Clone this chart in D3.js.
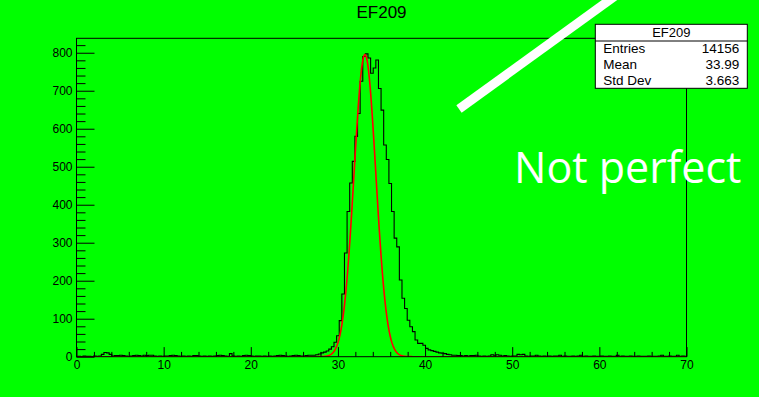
<!DOCTYPE html>
<html>
<head>
<meta charset="utf-8">
<script src="https://cdn.jsdelivr.net/npm/d3@7"></script>
<style>
  html, body { margin: 0; padding: 0; background: #00ff00; }
  svg { display: block; }
</style>
</head>
<body>
<svg id="chart" width="759" height="397"></svg>
<script>
// ---- histogram EF209 ----
const histTitle = "EF209";
const xDomain = [0, 70];
const binWidth = 0.3;          // bins are centred on multiples of 0.3
// bin contents, bin k is centred on k * binWidth
const counts = [
  0,1,0,2,1,1,0,2,1,2,            // 0
  6,11,10,6,2,3,3,4,3,2,          // 10
  1,2,3,4,3,2,4,3,4,4,            // 20
  2,1,2,1,2,2,3,4,3,2,            // 30
  1,2,1,2,1,3,3,2,1,2,            // 40
  1,2,1,2,3,4,3,2,1,8,            // 50
  2,1,2,1,3,4,3,2,1,2,            // 60
  2,1,2,1,2,1,2,3,4,3,            // 70
  2,1,2,3,4,3,2,2,3,4,            // 80
  4,4,5,7,10,12,15,20,26,38,      // 90
  55,95,165,273,382,457,514,580,640,725,   // 100
  790,797,786,746,760,781,706,649,557,519, // 110
  456,382,312,289,202,154,127,96,79,66,    // 120
  44,35,35,30,22,18,16,14,12,10,  // 130
  9,8,6,5,4,4,3,3,2,3,            // 140
  2,3,3,4,2,1,2,1,2,5,            // 150
  4,5,4,2,3,2,1,2,2,6,            // 160
  5,6,2,1,2,2,4,2,1,2,            // 170
  1,2,1,2,2,4,1,2,1,1,            // 180
  2,1,2,4,1,2,1,1,2,1,            // 190
  1,2,1,1,2,1,1,4,1,2,            // 200
  1,1,2,1,1,2,1,1,1,2,            // 210
  1,1,1,2,4,1,1,2,1,1,            // 220
  4,1,2,1                         // 230
];
// gaussian fit: constant, mean, sigma
const fitParams = [795, 33.1, 1.25];

// statistics box
const statsLabels = ["Entries", "Mean", "Std Dev"];
const statsValues = ["14156", "33.99", "3.663"];

// axis ticks
const xMajorTicks = [0, 10, 20, 30, 40, 50, 60, 70];
const yMajorTicks = [0, 100, 200, 300, 400, 500, 600, 700, 800];
const yMax = 838;

const noteText = "Not perfect";

// ---- layout ----
const FONT = "'Liberation Sans', Arial, Helvetica, sans-serif";
const frame = { left: 76.5, right: 686.5, top: 38.3, bottom: 356.7 };
const svg = d3.select("#chart");

const x = d3.scaleLinear().domain(xDomain).range([frame.left, frame.right]);
const y = d3.scaleLinear().domain([0, yMax]).range([frame.bottom, frame.top]);

svg.append("defs").append("clipPath").attr("id", "frameClip")
  .append("rect")
  .attr("x", frame.left).attr("y", frame.top)
  .attr("width", frame.right - frame.left).attr("height", frame.bottom - frame.top);

// ---- histogram outline ----
const edge = k => Math.max(xDomain[0], Math.min(xDomain[1], k * binWidth - binWidth / 2));
const path = d3.path();
path.moveTo(x(edge(0)), y(0));
counts.forEach((c, k) => {
  path.lineTo(x(edge(k)), y(c));
  path.lineTo(x(edge(k + 1)), y(c));
});
path.lineTo(x(edge(counts.length)), y(0));

const plot = svg.append("g").attr("clip-path", "url(#frameClip)");
plot.append("path")
  .attr("d", path.toString())
  .attr("fill", "none")
  .attr("stroke", "#000")
  .attr("stroke-width", 1.1);

// ---- fit curve ----
const gaus = v => fitParams[0] * Math.exp(-0.5 * Math.pow((v - fitParams[1]) / fitParams[2], 2));
const fitPts = d3.range(0, 700.01, 0.5).map(i => i / 10);
plot.append("path")
  .datum(fitPts)
  .attr("d", d3.line().x(v => x(v)).y(v => y(gaus(v))))
  .attr("fill", "none")
  .attr("stroke", "#ff0000")
  .attr("stroke-width", 1.6);

// ---- axes ----
const axisStyle = g => {
  g.select(".domain").remove();
  g.selectAll(".tick line").attr("stroke", "#000").attr("stroke-width", 1);
  g.selectAll("text").style("font-size", "12px").style("fill", "#000")
    .style("font-family", FONT);
};

const yMinor = d3.range(0, yMax, 20).filter(v => v % 100 !== 0);
svg.append("g").attr("transform", `translate(${frame.left},0)`)
  .call(d3.axisLeft(y).tickValues(yMinor).tickSizeInner(-9).tickSizeOuter(0).tickFormat(""))
  .call(axisStyle);
svg.append("g").attr("transform", `translate(${frame.left},0)`)
  .call(d3.axisLeft(y).tickValues(yMajorTicks).tickSizeInner(-18).tickSizeOuter(0).tickPadding(4).tickFormat(d3.format("d")))
  .call(axisStyle);

const xMinor = d3.range(0, 70, 2).filter(v => v % 10 !== 0);
svg.append("g").attr("transform", `translate(0,${frame.bottom})`)
  .call(d3.axisBottom(x).tickValues(xMinor).tickSizeInner(-4.8).tickSizeOuter(0).tickFormat(""))
  .call(axisStyle);
svg.append("g").attr("transform", `translate(0,${frame.bottom})`)
  .call(d3.axisBottom(x).tickValues(xMajorTicks).tickSizeInner(-9.6).tickSizeOuter(0).tickPadding(4).tickFormat(d3.format("d")))
  .call(axisStyle);

// frame
svg.append("rect")
  .attr("x", frame.left).attr("y", frame.top)
  .attr("width", frame.right - frame.left).attr("height", frame.bottom - frame.top)
  .attr("fill", "none").attr("stroke", "#000").attr("stroke-width", 1);

// ---- title ----
const label = (sel, size) => sel.style("font-family", FONT).style("font-size", size + "px").style("fill", "#000");
svg.append("text")
  .attr("x", (frame.left + frame.right) / 2).attr("y", 18.3)
  .attr("text-anchor", "middle")
  .call(label, 17)
  .text(histTitle);

// ---- statistics box ----
const box = { left: 595.3, right: 747.3, top: 24.3, bottom: 88.3, head: 41 };
const stats = svg.append("g");
stats.append("rect")
  .attr("x", box.left).attr("y", box.top)
  .attr("width", box.right - box.left).attr("height", box.bottom - box.top)
  .attr("fill", "#fff").attr("stroke", "#000").attr("stroke-width", 1);
stats.append("line")
  .attr("x1", box.left).attr("x2", box.right)
  .attr("y1", box.head).attr("y2", box.head)
  .attr("stroke", "#000").attr("stroke-width", 1);
stats.append("text")
  .attr("x", (box.left + box.right) / 2).attr("y", 37.4)
  .attr("text-anchor", "middle")
  .call(label, 13)
  .text(histTitle);
statsLabels.forEach((lab, i) => {
  const by = 53.3 + i * 15.8;
  stats.append("text").attr("x", box.left + 8).attr("y", by)
    .call(label, 13.5).text(lab);
  stats.append("text").attr("x", box.right - 8).attr("y", by)
    .attr("text-anchor", "end")
    .call(label, 13.5).text(statsValues[i]);
});

// ---- annotation ----
svg.append("line")
  .attr("x1", 459).attr("y1", 109)
  .attr("x2", 640).attr("y2", -22)
  .attr("stroke", "#fff").attr("stroke-width", 9);

svg.append("text")
  .attr("x", 514).attr("y", 183)
  .style("font-family", "'Open Sans', 'Noto Sans', sans-serif")
  .style("font-weight", "400")
  .style("font-size", "43px")
  .style("fill", "#fff")
  .text(noteText);
</script>
</body>
</html>
